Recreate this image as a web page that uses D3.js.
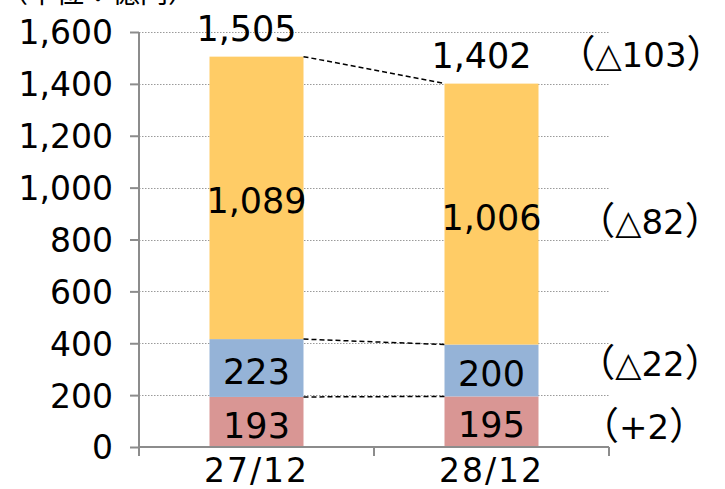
<!DOCTYPE html>
<html><head><meta charset="utf-8">
<script src="https://cdn.jsdelivr.net/npm/d3@7"></script>
<style>body{margin:0;background:#fff}svg{display:block}</style>
</head><body><svg id="c" width="725" height="489"></svg>
<script>
const categories = ["27/12", "28/12"];
const seriesNames = ["bottom", "middle", "top"];
const bottomValues = [193, 195];
const middleValues = [223, 200];
const topValues = [1089, 1006];
const totals = [1505, 1402];
const changeLabels = ["（△103）", "（△82）", "（△22）", "（+2）"];
const yTicks = [0, 200, 400, 600, 800, 1000, 1200, 1400, 1600];
const titleText = "（単位：億円）";

const colors = {bottom: "#D99694", middle: "#95B3D7", top: "#FFCC66"};
const font = "'DejaVu Sans', 'Noto Sans CJK JP', sans-serif";
const cjk = "'Noto Sans CJK JP', sans-serif";
const svg = d3.select("#c");
const x = d3.scaleBand().domain(categories).range([139, 609]).paddingInner(0).paddingOuter(0);
const y = d3.scaleLinear().domain([0, 1600]).range([447, 32]);
const barW = 94;

const data = categories.map((c, i) => ({cat: c, bottom: bottomValues[i], middle: middleValues[i], top: topValues[i], total: totals[i]}));
const stack = d3.stack().keys(seriesNames)(data);

// title (cut off at top, as in the reference)
svg.append("text").attr("x", 0).attr("y", 3).attr("font-family", cjk).attr("font-size", 28).text(titleText);

// gridlines
svg.append("g").selectAll("line").data(yTicks.filter(d => d > 0)).join("line")
  .attr("x1", 139).attr("x2", 609).attr("y1", d => Math.round(y(d)) + 0.5).attr("y2", d => Math.round(y(d)) + 0.5)
  .attr("stroke", "#9a9a9a").attr("stroke-width", 1).attr("stroke-dasharray", "1.5,1.5");

// bars
const bx = d => x(d) + x.bandwidth() / 2 - barW / 2;
svg.append("g").selectAll("g").data(stack).join("g").attr("fill", s => colors[s.key])
  .selectAll("rect").data(s => s).join("rect")
  .attr("x", d => bx(d.data.cat)).attr("width", barW)
  .attr("y", d => y(d[1])).attr("height", d => y(d[0]) - y(d[1]));

// connector lines
const levels = [s => s.total, s => s.bottom + s.middle, s => s.bottom];
levels.forEach(f => {
  svg.append("line")
    .attr("x1", bx(categories[0]) + barW).attr("y1", y(f(data[0])))
    .attr("x2", bx(categories[1])).attr("y2", y(f(data[1])))
    .attr("stroke", "#000").attr("stroke-width", 1.5).attr("stroke-dasharray", "5,3");
});

// y axis
const yAxis = svg.append("g").attr("transform", "translate(139,0)")
  .call(d3.axisLeft(y).tickValues(yTicks).tickSize(9).tickPadding(17).tickFormat(d3.format(",")));
yAxis.select(".domain").attr("stroke", "#8c8c8c").attr("stroke-width", 2).attr("d", "M0,447V32");
yAxis.selectAll(".tick line").attr("stroke", "#8c8c8c").attr("stroke-width", 2);
yAxis.selectAll("text").attr("font-family", font).attr("font-size", 33).attr("fill", "#000").attr("dy", "0.36em");

// x axis
const xAxis = svg.append("g").attr("transform", "translate(0,447)")
  .call(d3.axisBottom(x).tickSize(0).tickPadding(12));
xAxis.select(".domain").attr("stroke", "#8c8c8c").attr("stroke-width", 2).attr("d", "M139,0H609");
xAxis.selectAll("text").attr("font-family", font).attr("font-size", 33).attr("fill", "#000")
  .attr("dy", "0.71em").attr("letter-spacing", 2);
svg.append("g").selectAll("line").data([139, 374, 609]).join("line")
  .attr("x1", d => d).attr("x2", d => d).attr("y1", 447).attr("y2", 456)
  .attr("stroke", "#8c8c8c").attr("stroke-width", 2);

// segment labels
const fmt = d3.format(",");
stack.forEach(s => {
  svg.append("g").selectAll("text").data(s).join("text")
    .attr("x", d => x(d.data.cat) + x.bandwidth() / 2)
    .attr("y", d => (y(d[0]) + y(d[1])) / 2 + 3)
    .attr("text-anchor", "middle").attr("dy", "0.36em")
    .attr("font-family", font).attr("font-size", 35).attr("fill", "#000")
    .text(d => fmt(d[1] - d[0]));
});
// total labels
svg.append("g").selectAll("text").data(data).join("text")
  .attr("x", d => x(d.cat) + x.bandwidth() / 2 - 10)
  .attr("y", d => y(d.total) - 28)
  .attr("text-anchor", "middle").attr("dy", "0.36em")
  .attr("font-family", font).attr("font-size", 35).attr("fill", "#000")
  .text(d => fmt(d.total));

// change labels (full-width parentheses from the CJK font)
const changeX = [641, 650, 650, 644];
const changeY = [55, 222, 364, 427];
const ct = svg.append("g").selectAll("text").data(changeLabels).join("text")
  .attr("x", (d, i) => changeX[i]).attr("y", (d, i) => changeY[i])
  .attr("text-anchor", "middle").attr("dy", "0.36em")
  .attr("font-family", font).attr("font-size", 34).attr("fill", "#000");
ct.each(function(d) {
  const t = d3.select(this);
  const parts = d.match(/^(（)(.*)(）)$/);
  t.append("tspan").attr("font-family", cjk).attr("font-size", 38).text(parts[1]);
  t.append("tspan").text(parts[2]);
  t.append("tspan").attr("font-family", cjk).attr("font-size", 38).text(parts[3]);
});
</script></body></html>
